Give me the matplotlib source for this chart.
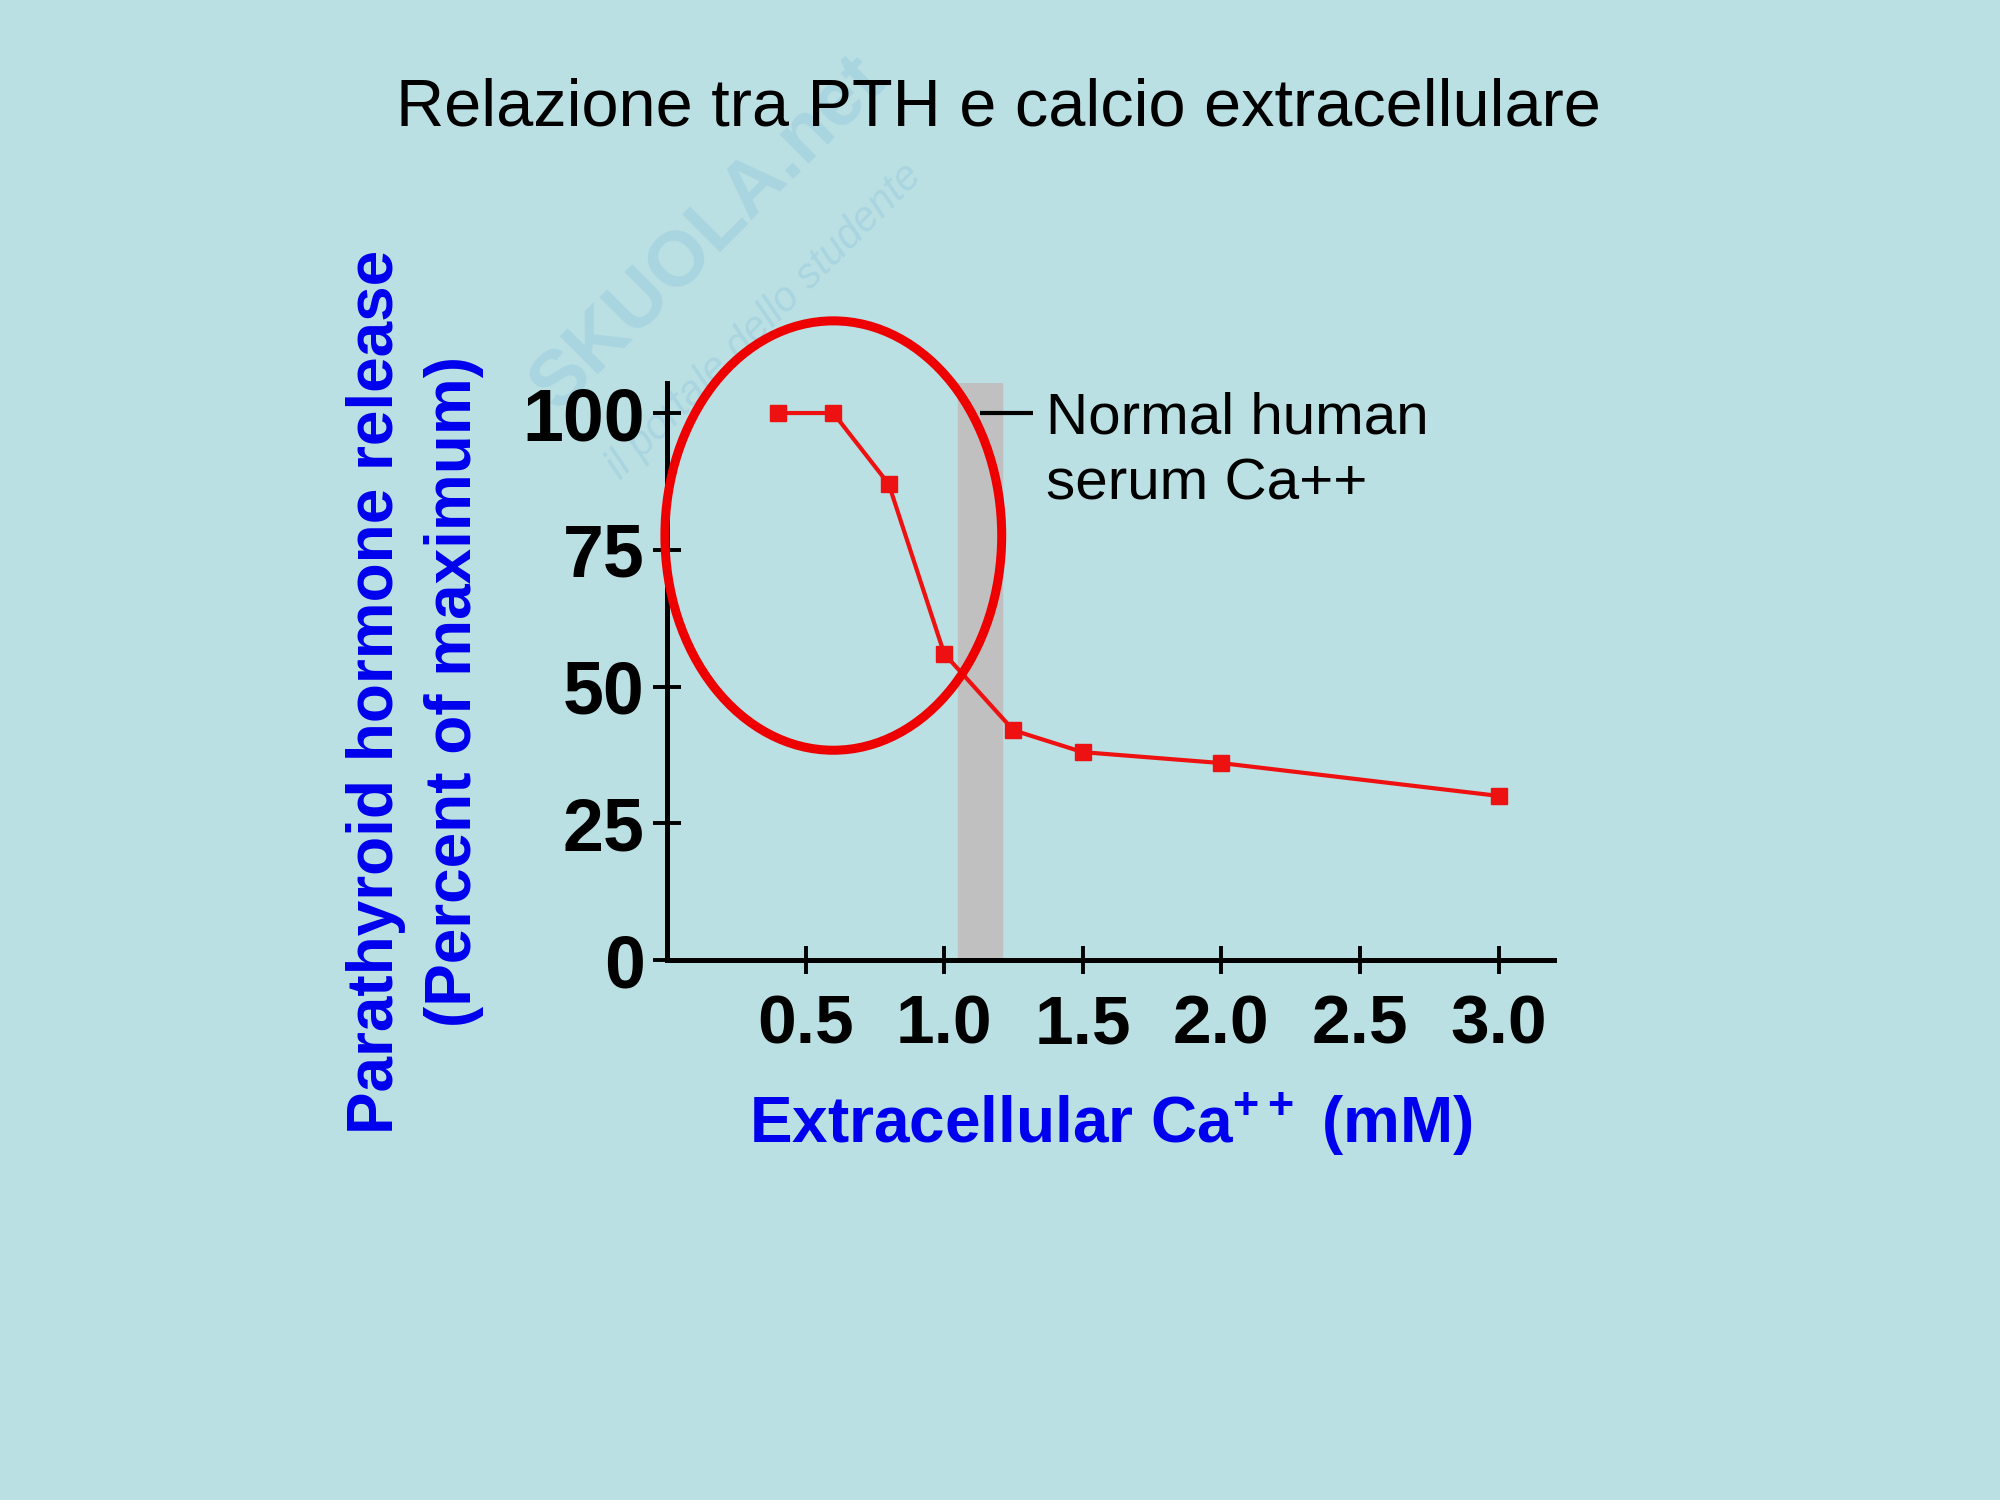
import matplotlib.pyplot as plt
from matplotlib.patches import Ellipse

# Data
calcium = [0.4, 0.6, 0.8, 1.0, 1.25, 1.5, 2.0, 3.0]
pth_release = [100, 100, 87, 56, 42, 38, 36, 30]
x_ticks = [0.5, 1.0, 1.5, 2.0, 2.5, 3.0]
x_tick_labels = ['0.5', '1.0', '1.5', '2.0', '2.5', '3.0']
y_ticks = [0, 25, 50, 75, 100]
y_tick_labels = ['0', '25', '50', '75', '100']
normal_range = (1.05, 1.21)
highlight_center = (0.6, 77.6)
highlight_size = (1.215, 78.5)

bg = '#bbe0e3'
font = 'Liberation Sans'
plt.rcParams['mathtext.fontset'] = 'custom'
plt.rcParams['mathtext.rm'] = 'Liberation Sans:bold'
plt.rcParams['mathtext.default'] = 'rm'

fig = plt.figure(figsize=(20, 15), dpi=100, facecolor=bg)
ax = fig.add_axes([0.3335, 0.36, 0.4435, 0.3847], facecolor='none')

# Watermark (faint, behind everything)
wm = '#a9d5e0'
fig.text(0.354, 0.845, 'SKUOLA.net', fontsize=56, fontweight='bold', color=wm,
         rotation=45, ha='center', va='center', family=font, zorder=-1)
fig.text(0.382, 0.786, 'il portale dello studente', fontsize=30, color=wm,
         rotation=45, ha='center', va='center', family=font, style='italic', zorder=-1)

# Title
fig.text(0.499, 0.928, 'Relazione tra PTH e calcio extracellulare', fontsize=48,
         ha='center', va='center', family=font, color='black')

# Normal serum calcium band
ax.axvspan(normal_range[0], normal_range[1], color='#c0c0c0', zorder=1)

# Curve
ax.plot(calcium, pth_release, color='#ee1111', lw=3, marker='s', markersize=12,
        zorder=3)

# Highlight ellipse
ax.add_patch(Ellipse(highlight_center, highlight_size[0], highlight_size[1],
                     fill=False, edgecolor='#ee0000', lw=6.5, clip_on=False, zorder=4))

# Annotation
ax.plot([1.13, 1.32], [100, 100], color='black', lw=3, solid_capstyle='butt', zorder=2)
ax.text(1.367, 93, 'Normal human\nserum Ca++', fontsize=42, family=font,
        ha='left', va='center', linespacing=1.3, color='black')

ax.set_xlim(0, 3.2)
ax.set_ylim(0, 105.5)
ax.set_xticks(x_ticks)
ax.set_xticklabels(x_tick_labels)
ax.set_yticks(y_ticks)
ax.set_yticklabels(y_tick_labels)

for side in ['top', 'right']:
    ax.spines[side].set_visible(False)
for side in ['left', 'bottom']:
    ax.spines[side].set_linewidth(3.6)
    ax.spines[side].set_color('black')

ax.tick_params(axis='both', direction='inout', length=20, width=2.8, color='black')
ax.tick_params(axis='y', pad=6)
ax.tick_params(axis='x', pad=14)
for lbl in ax.get_xticklabels():
    lbl.set_fontsize(50)
    lbl.set_fontweight('bold')
    lbl.set_family(font)
for lbl in ax.get_yticklabels():
    lbl.set_fontsize(53)
    lbl.set_fontweight('bold')
    lbl.set_family(font)

ax.set_xlabel('Extracellular Ca$^{++}$ (mM)', fontsize=46, fontweight='bold',
              color='#0000ee', family=font, labelpad=24)
fig.text(0.188, 0.539, 'Parathyroid hormone release', fontsize=46, fontweight='bold',
         color='#0000ee', family=font, rotation=90, ha='center', va='center')
fig.text(0.227, 0.539, '(Percent of maximum)', fontsize=46, fontweight='bold',
         color='#0000ee', family=font, rotation=90, ha='center', va='center')

fig.savefig('out.png', dpi=100, facecolor=bg)
